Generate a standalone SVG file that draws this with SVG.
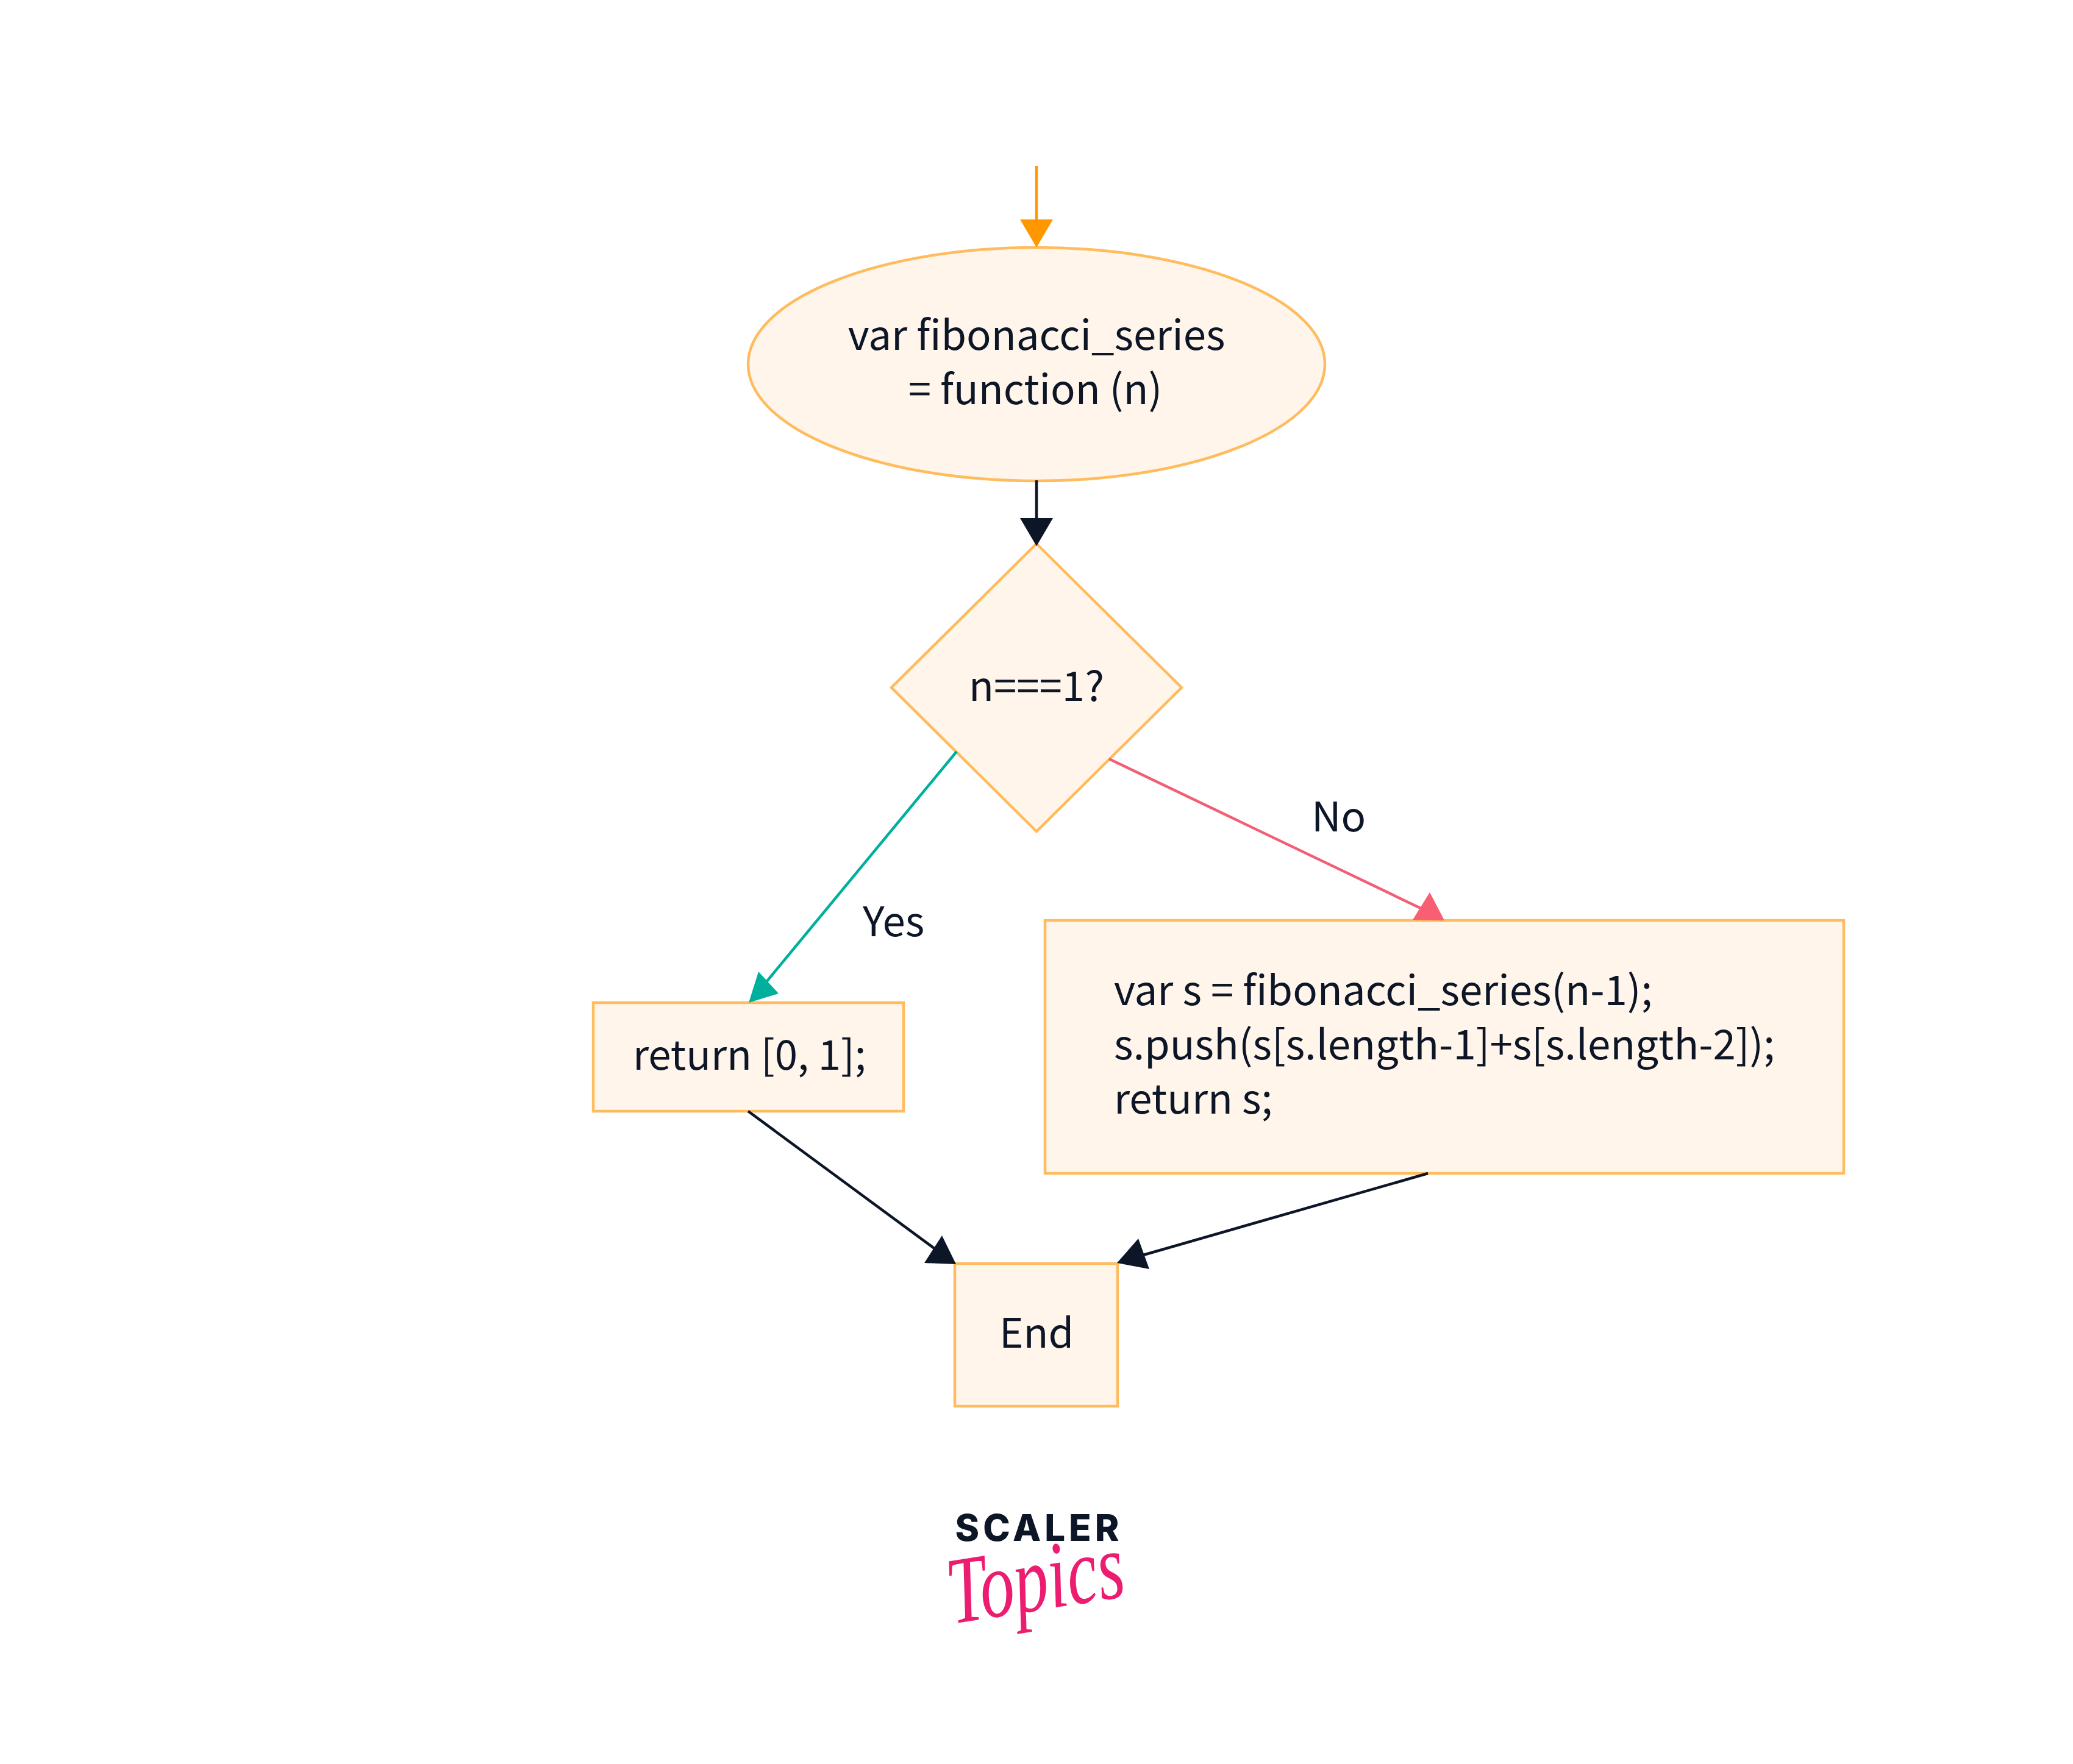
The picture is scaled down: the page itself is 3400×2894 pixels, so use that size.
<svg xmlns="http://www.w3.org/2000/svg" width="3400" height="2894" viewBox="0 0 3400 2894">
<style>
.n{fill:#FFF5EA;stroke:#FFBC5E;stroke-width:4.5}
.t{font-family:"Noto Sans CJK SC","Noto Sans",sans-serif;font-size:67.2px;fill:#0D1627}
.c{text-anchor:middle}
.l{fill:none;stroke-width:4.5}
</style>
<rect width="3400" height="2894" fill="#FFFFFF"/>
<g id="start"><ellipse class="n" cx="1700" cy="597.500" rx="473" ry="191.500"/><text class="t c" x="1700" y="574">var fibonacci_series</text><text class="t c" x="1698" y="663">= function (n)</text></g>
<g id="decision"><polygon class="n" points="1700,892 1938,1128 1700,1364 1462,1128"/><text class="t c" x="1700" y="1150">n===1?</text></g>
<g id="return-base"><rect class="n" x="973" y="1645" width="509" height="178"/><text class="t" x="1038" y="1755">return [0, 1];</text></g>
<g id="recurse"><rect class="n" x="1714" y="1510" width="1310" height="415"/><text class="t" x="1827" y="1649">var s = fibonacci_series(n-1);</text><text class="t" x="1827" y="1738">s.push(s[s.length-1]+s[s.length-2]);</text><text class="t" x="1827" y="1827">return s;</text></g>
<g id="end"><rect class="n" x="1566" y="2073" width="267" height="234"/><text class="t c" x="1700" y="2211">End</text></g>
<g id="connectors">
<path class="l" stroke="#FF9800" d="M1700 272V362"/><polygon fill="#FF9800" points="1673,360 1727,360 1700,406"/>
<path class="l" stroke="#0D1627" d="M1700 788V852"/><polygon fill="#0D1627" points="1673,850 1727,850 1700,896"/>
<path class="l" stroke="#00B09C" d="M1569 1233L1256 1612"/><polygon fill="#00B09C" points="1228,1645 1244,1594 1277,1630"/>
<path class="l" stroke="#F25F75" d="M1819 1245L2330 1490"/><polygon fill="#F85F73" points="2345,1464 2317,1509 2369,1510"/>
<path class="l" stroke="#0D1627" d="M1227 1823L1535 2050"/><polygon fill="#0D1627" points="1568,2074 1545,2027 1516,2072"/>
<path class="l" stroke="#0D1627" d="M2342 1925L1875 2059"/><polygon fill="#0D1627" points="1832,2072 1867,2032 1885,2082"/>
</g>
<text class="t" x="2151" y="1364">No</text>
<text class="t" x="1415" y="1536">Yes</text>
<g id="logo">
<text x="1704" y="2528" text-anchor="middle" font-family="Inter,'Liberation Sans',sans-serif" font-weight="800" font-size="60" letter-spacing="6" fill="#0D1627">SCALER</text>
<text transform="translate(1562 2664) rotate(-9) scale(.87 1.2)" font-family="'Liberation Serif',serif" font-style="italic" font-size="130" fill="#EC1C71">Topics</text>
</g>
</svg>
